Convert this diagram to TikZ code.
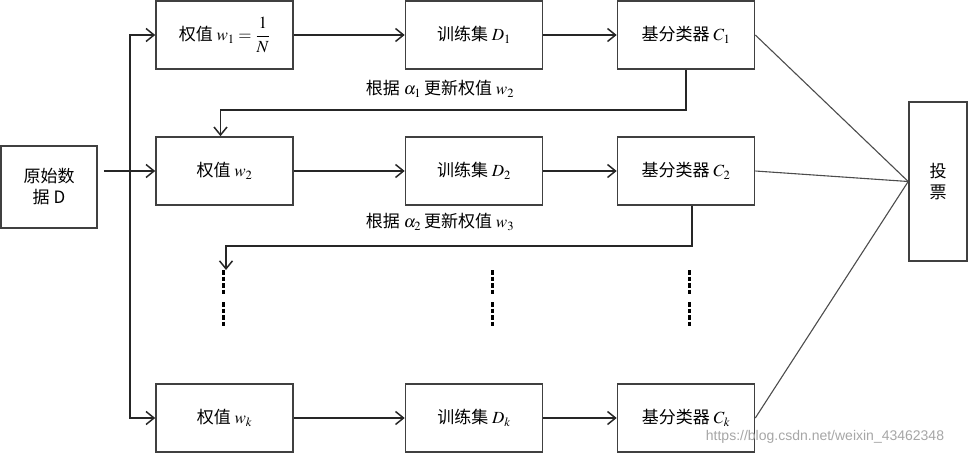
\documentclass[tikz,border=0pt]{standalone}
\usepackage{mathptmx}
\usepackage{fontspec}
\newfontfamily\cjk{Noto Sans CJK SC}
\newfontfamily\wmfont{Liberation Sans}
\usetikzlibrary{arrows.meta}
\begin{document}
\begin{tikzpicture}[x=1pt,y=-1pt,
  box/.style={draw=black!75,line width=1.6pt,minimum width=137pt,minimum height=68pt,inner sep=0pt,font=\cjk\fontsize{17}{21}\selectfont},
  conn/.style={draw=black!85,line width=1.5pt,-{Straight Barb[length=8pt,width=13pt,line width=1.5pt]}},
  vline/.style={draw=black!70,line width=1.1pt},
  lbl/.style={font=\cjk\fontsize{17}{21}\selectfont,inner sep=0pt},
  dotline/.style={draw=black,line width=3pt,dash pattern=on 4.5pt off 2pt}]
\useasboundingbox (0,0) rectangle (970,455);
% nodes
\node[box,minimum width=96pt,minimum height=82pt,align=center] (D) at (49,187) {原始数\\据 D};
\node[box] (w1) at (224.5,35) {权值 $w_1=\displaystyle\frac{1}{N}$};
\node[box] (D1) at (474,35) {训练集 $D_1$};
\node[box] (C1) at (686,35) {基分类器 $C_1$};
\node[box] (w2) at (224.5,171) {权值 $w_2$};
\node[box] (D2) at (474,171) {训练集 $D_2$};
\node[box] (C2) at (686,171) {基分类器 $C_2$};
\node[box] (wk) at (224.5,418) {权值 $w_k$};
\node[box] (Dk) at (474,418) {训练集 $D_k$};
\node[box] (Ck) at (686,418) {基分类器 $C_k$};
\node[box,minimum width=58pt,minimum height=159pt,align=center] (vote) at (938,181.5) {投\\票};
\node[lbl] (l1) at (440,89) {根据 $\alpha_1$\,更新权值 $w_2$};
\node[lbl] (l2) at (440,222) {根据 $\alpha_2$\,更新权值 $w_3$};
\node[font=\wmfont\fontsize{14}{16}\selectfont,text=black!35,inner sep=0pt] (wm) at (825,437) {https://blog.csdn.net/weixin\_43462348};
% connectors
\coordinate (j) at (130,171);
\draw[conn] ([xshift=6pt]D.east|-w2.west) -- (w2.west);
\draw[conn] (j) |- (w1.west);
\draw[conn] (j) |- (wk.west);
\draw[conn] (w1) -- (D1);
\draw[conn] (D1) -- (C1);
\draw[conn] (w2) -- (D2);
\draw[conn] (D2) -- (C2);
\draw[conn] (wk) -- (Dk);
\draw[conn] (Dk) -- (Ck);
\draw[conn] (C1.south) -- ++(0,40) -| ([xshift=-4pt]w2.north);
\coordinate (f2) at (226,270);
\draw[conn] ([xshift=6pt]C2.south) -- ++(0,40) -| (f2);
\draw[vline] (C1.east) -- (vote.west);
\draw[vline] (C2.east) -- (vote.west);
\draw[vline] (Ck.east) -- (vote.west);
% ellipsis dashes
\foreach \x in {223,492,689}{
  \draw[dotline] (\x,270) -- (\x,295);
  \draw[dotline] (\x,302) -- (\x,326);
}
\end{tikzpicture}
\end{document}
